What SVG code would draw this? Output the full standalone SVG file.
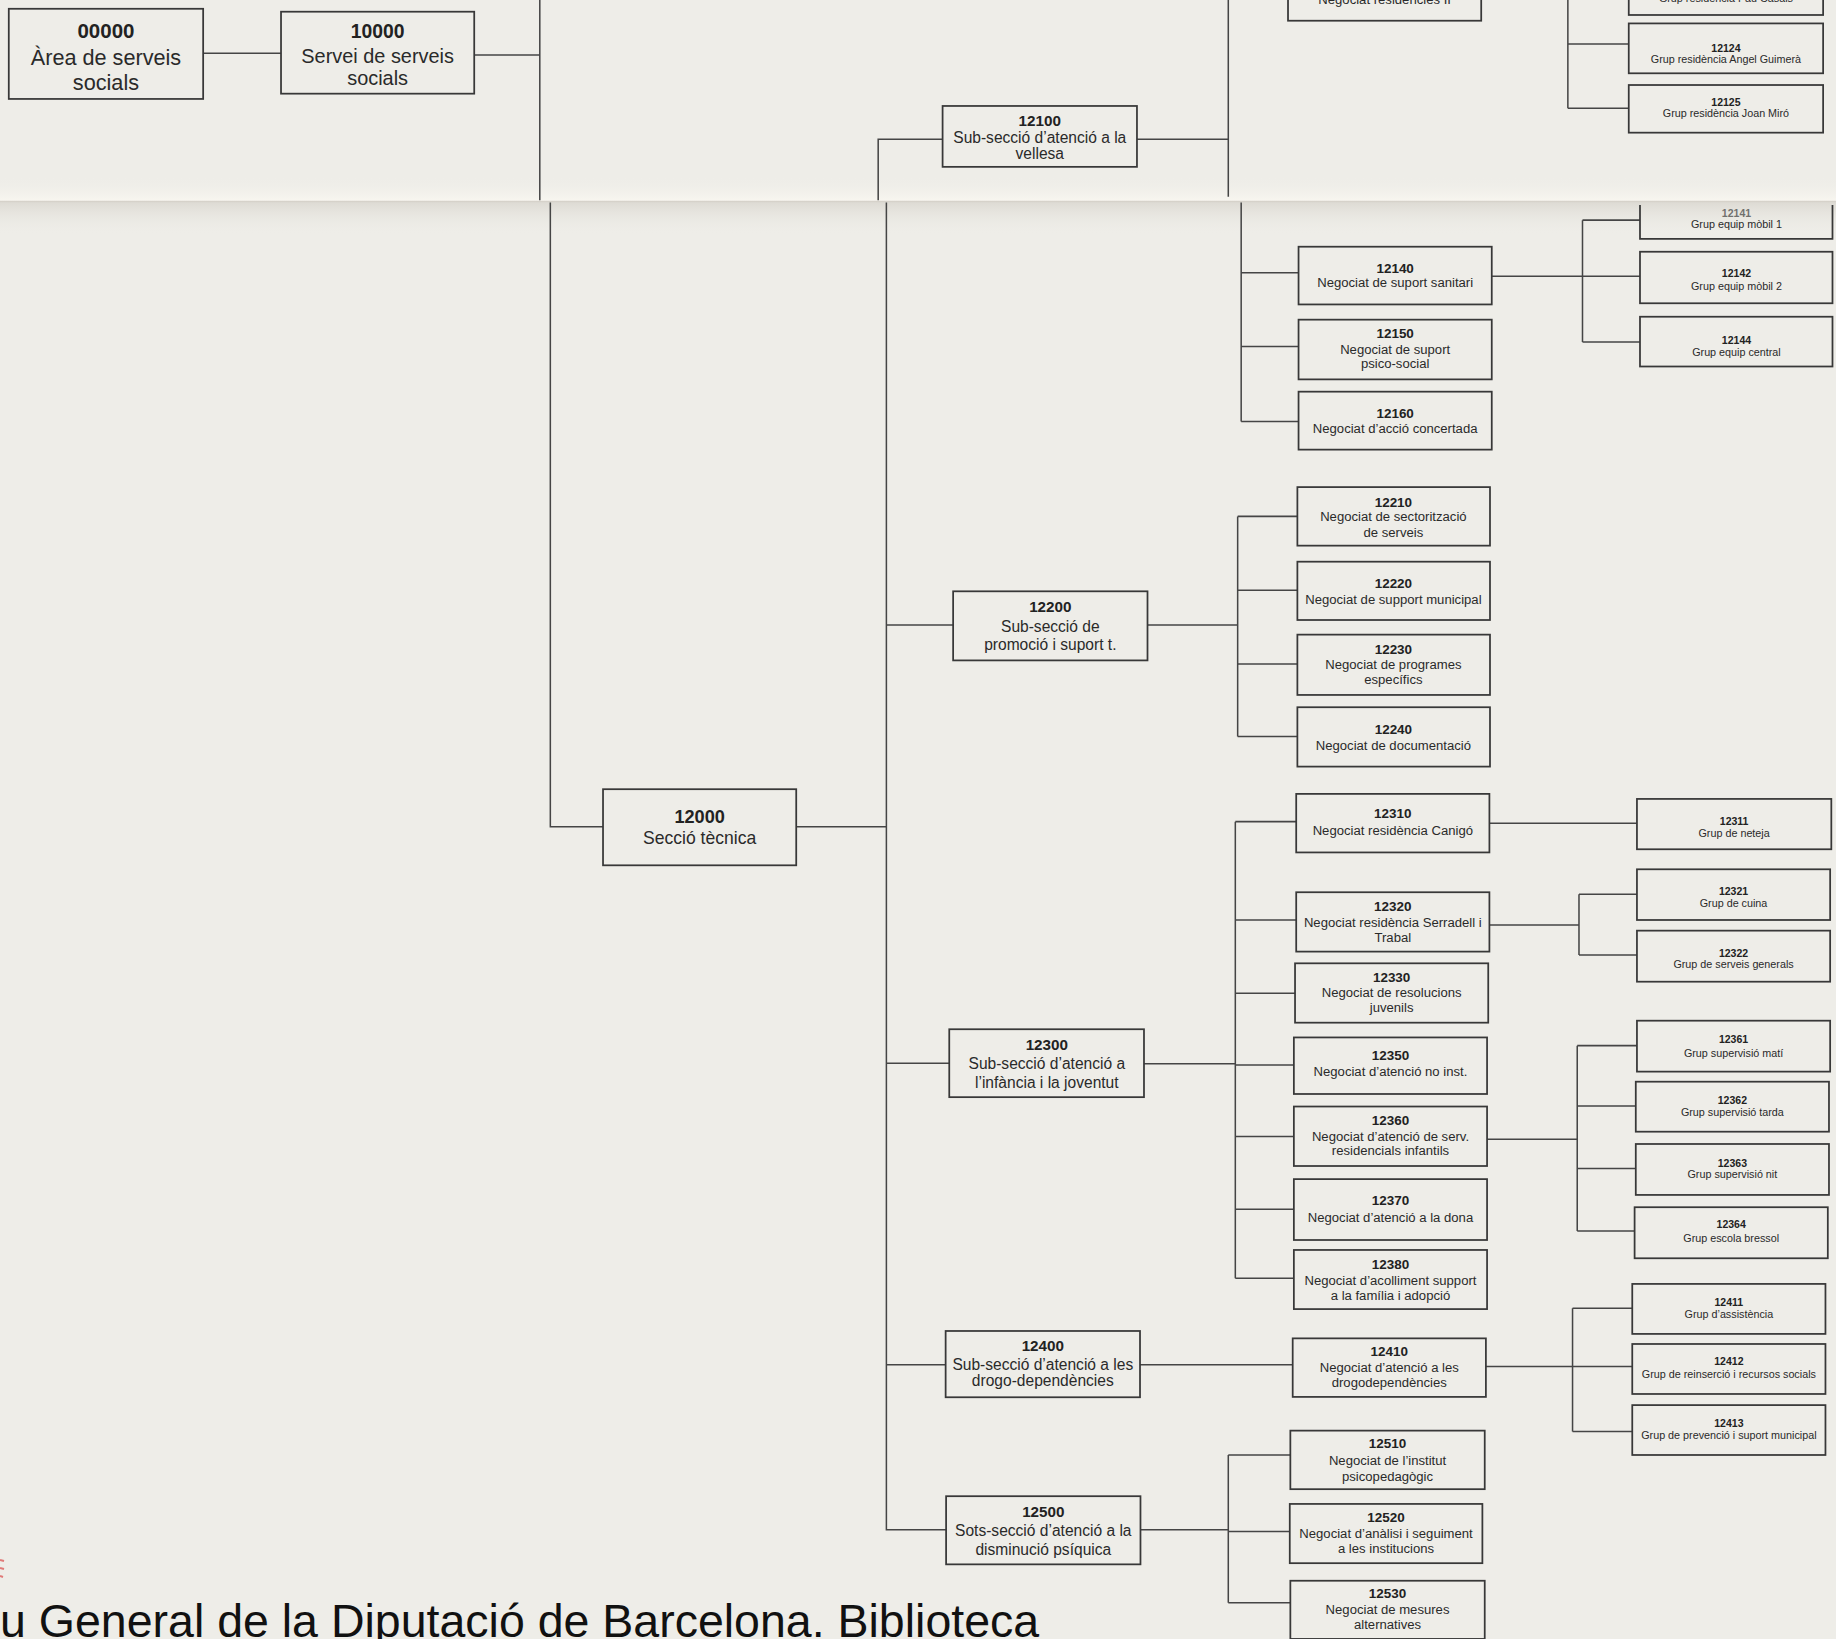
<svg xmlns="http://www.w3.org/2000/svg" width="1836" height="1639" viewBox="0 0 1836 1639">
<style>
.box{fill:none;stroke:#383838;stroke-width:1.5}
.ln{fill:none;stroke:#454545;stroke-width:1.3}
text{font-family:"Liberation Sans",Arial,sans-serif;text-anchor:middle;fill:#2a2a2a}
.b{font-weight:bold;fill:#222}
.f0{font-size:18.5px}.f0b{font-size:17.5px}
.f1{font-size:17px}.f1b{font-size:16.5px}
.f2{font-size:15px}.f2b{font-size:15.5px}
.fs{font-size:13.3px}.fsb{font-size:13px}
.fn{font-size:11.2px}.fnb{font-size:11.5px}
.fg{font-size:9.2px}.fgb{font-size:9px}
</style>
<defs>
<linearGradient id="shade" x1="0" y1="0" x2="0" y2="1">
<stop offset="0" stop-color="#dcd9d2"/>
<stop offset="1" stop-color="#eeede8" stop-opacity="0"/>
</linearGradient>
<linearGradient id="light" x1="0" y1="0" x2="0" y2="1">
<stop offset="0" stop-color="#eeede8" stop-opacity="0"/>
<stop offset="1" stop-color="#f8f6f0"/>
</linearGradient>
</defs>
<rect width="1836" height="1639" fill="#eeede8"/>
<rect x="0" y="176" width="1836" height="25" fill="url(#light)"/>
<rect x="0" y="201" width="1836" height="34" fill="url(#shade)"/>
<line x1="0" y1="201.5" x2="1836" y2="201.5" stroke="#d6d2ca" stroke-width="1.5"/>

<g transform="scale(1.17092)">
<g id="connectors" class="ln">
<path d="M173.5,45.5H240M405,47H461M461,0V171"/>
<path d="M470,173V706H515M680,706H757"/>
<path d="M750,171V119H805M757,173V1306.4H808M757,533.7H814M757,908H810.7M757,1165.5H807.6"/>
<path d="M971,119H1049M1049,0V168"/>
<path d="M1060,173V360M1060,233H1109M1060,296H1109M1060,360H1109"/>
<path d="M1274,236H1400.6M1351.5,188V292M1351.5,188H1400.6M1351.5,292H1400.6"/>
<path d="M1339,0V92.5M1339,37.6H1391M1339,92.5H1391"/>
<path d="M980,533.7H1057M1057,441V629M1057,441H1108M1057,504H1108M1057,567H1108M1057,629H1108"/>
<path d="M977,908.5H1055M1055,701.7V1091.7M1055,701.7H1107M1055,785.7H1107M1055,848.3H1106M1055,909.5H1105M1055,970.7H1105M1055,1032.8H1105M1055,1091.7H1105"/>
<path d="M1272,703H1398"/>
<path d="M1272,790H1348.5M1348.5,763.7V815.6M1348.5,763.7H1398M1348.5,815.6H1398"/>
<path d="M1270,973H1347M1347,893V1051.3M1347,893H1398M1347,944.5H1397M1347,998H1397M1347,1051.3H1396"/>
<path d="M973.6,1165.5H1104"/>
<path d="M1269,1167H1394M1343,1117.3V1222.6M1343,1117.3H1394M1343,1222.6H1394"/>
<path d="M974,1306.4H1049M1049,1242.6V1368.7M1049,1242.6H1102M1049,1308H1101.5M1049,1368.7H1102"/>
</g>

<g id="n00000"><rect class="box" x="7.5" y="7.5" width="166" height="77"/>
<text x="90.5" y="32.5" class="b f0b">00000</text><text x="90.5" y="55.5" class="f0">Àrea de serveis</text><text x="90.5" y="77" class="f0">socials</text></g>
<g id="n10000"><rect class="box" x="240" y="10" width="165" height="70"/>
<text x="322.5" y="32.7" class="b f1b">10000</text><text x="322.5" y="54" class="f1">Servei de serveis</text><text x="322.5" y="72.6" class="f1">socials</text></g>
<g id="n12000"><rect class="box" x="515" y="674" width="165" height="65"/>
<text x="597.5" y="703" class="b f2b">12000</text><text x="597.5" y="721" class="f2">Secció tècnica</text></g>

<g id="n12100"><rect class="box" x="805" y="90.5" width="166" height="52"/>
<text x="888" y="108" class="b fsb">12100</text><text x="888" y="122.3" class="fs">Sub-secció d’atenció a la</text><text x="888" y="136" class="fs">vellesa</text></g>
<g id="n-negociat-residencies-ii"><rect class="box" x="1100" y="-5" width="165" height="22.7"/>
<text x="1182.5" y="3.4" class="fn">Negociat residències II</text></g>
<g id="n-grup-pau-casals"><rect class="box" x="1391" y="-5" width="166" height="17.8"/>
<text x="1474" y="1.8" class="fg">Grup residència Pau Casals</text></g>
<g id="n12124"><rect class="box" x="1391" y="20" width="166" height="42.6"/>
<text x="1474" y="44" class="b fgb">12124</text><text x="1474" y="54" class="fg">Grup residència Angel Guimerà</text></g>
<g id="n12125"><rect class="box" x="1391" y="72.6" width="166" height="40.7"/>
<text x="1474" y="90.5" class="b fgb">12125</text><text x="1474" y="100" class="fg">Grup residència Joan Miró</text></g>

<g id="n12140"><rect class="box" x="1109" y="210.7" width="165" height="49.3"/>
<text x="1191.5" y="232.9" class="b fnb">12140</text><text x="1191.5" y="245.4" class="fn">Negociat de suport sanitari</text></g>
<g id="n12150"><rect class="box" x="1109" y="273" width="165" height="51"/>
<text x="1191.5" y="289" class="b fnb">12150</text><text x="1191.5" y="302" class="fn">Negociat de suport</text><text x="1191.5" y="314.6" class="fn">psico-social</text></g>
<g id="n12160"><rect class="box" x="1109" y="334.5" width="165" height="49.5"/>
<text x="1191.5" y="357.2" class="b fnb">12160</text><text x="1191.5" y="370" class="fn">Negociat d’acció concertada</text></g>
<g id="n12141"><path class="box" d="M1400.6,175V204H1565V175"/>
<text x="1483" y="185" class="b fgb" opacity="0.6">12141</text><text x="1483" y="195" class="fg">Grup equip mòbil 1</text></g>
<g id="n12142"><rect class="box" x="1400.6" y="215" width="164.4" height="44"/>
<text x="1483" y="236.8" class="b fgb">12142</text><text x="1483" y="247.7" class="fg">Grup equip mòbil 2</text></g>
<g id="n12144"><rect class="box" x="1400.6" y="270.5" width="164.4" height="42.5"/>
<text x="1483" y="293.8" class="b fgb">12144</text><text x="1483" y="304" class="fg">Grup equip central</text></g>

<g id="n12200"><rect class="box" x="814" y="505" width="166" height="59"/>
<text x="897" y="522.4" class="b fsb">12200</text><text x="897" y="539.5" class="fs">Sub-secció de</text><text x="897" y="555" class="fs">promoció i suport t.</text></g>
<g id="n12210"><rect class="box" x="1108" y="416" width="164.5" height="50"/>
<text x="1190" y="432.7" class="b fnb">12210</text><text x="1190" y="444.7" class="fn">Negociat de sectorització</text><text x="1190" y="458.3" class="fn">de serveis</text></g>
<g id="n12220"><rect class="box" x="1108" y="479.7" width="164.5" height="49.8"/>
<text x="1190" y="502.4" class="b fnb">12220</text><text x="1190" y="515.8" class="fn">Negociat de support municipal</text></g>
<g id="n12230"><rect class="box" x="1108" y="542" width="164.5" height="51.5"/>
<text x="1190" y="558.5" class="b fnb">12230</text><text x="1190" y="571.6" class="fn">Negociat de programes</text><text x="1190" y="584.1" class="fn">específics</text></g>
<g id="n12240"><rect class="box" x="1108" y="604" width="164.5" height="50.7"/>
<text x="1190" y="626.8" class="b fnb">12240</text><text x="1190" y="640.5" class="fn">Negociat de documentació</text></g>

<g id="n12300"><rect class="box" x="810.7" y="879" width="166.3" height="58"/>
<text x="894" y="896.4" class="b fsb">12300</text><text x="894" y="913.2" class="fs">Sub-secció d’atenció a</text><text x="894" y="928.8" class="fs">l’infància i la joventut</text></g>
<g id="n12310"><rect class="box" x="1107" y="678" width="165" height="50"/>
<text x="1189.5" y="698.8" class="b fnb">12310</text><text x="1189.5" y="713" class="fn">Negociat residència Canigó</text></g>
<g id="n12311"><rect class="box" x="1398" y="682.3" width="166" height="43"/>
<text x="1481" y="704.5" class="b fgb">12311</text><text x="1481" y="714.5" class="fg">Grup de neteja</text></g>
<g id="n12320"><rect class="box" x="1107" y="762" width="165" height="50.7"/>
<text x="1189.5" y="777.7" class="b fnb">12320</text><text x="1189.5" y="791.4" class="fn">Negociat residència Serradell i</text><text x="1189.5" y="804.2" class="fn">Trabal</text></g>
<g id="n12321"><rect class="box" x="1398" y="742.4" width="165" height="43.3"/>
<text x="1480.5" y="764.3" class="b fgb">12321</text><text x="1480.5" y="774.3" class="fg">Grup de cuina</text></g>
<g id="n12322"><rect class="box" x="1398" y="794.8" width="165" height="43.6"/>
<text x="1480.5" y="817" class="b fgb">12322</text><text x="1480.5" y="827" class="fg">Grup de serveis generals</text></g>
<g id="n12330"><rect class="box" x="1106" y="822.7" width="165" height="50.7"/>
<text x="1188.5" y="838.4" class="b fnb">12330</text><text x="1188.5" y="851.2" class="fn">Negociat de resolucions</text><text x="1188.5" y="864" class="fn">juvenils</text></g>
<g id="n12350"><rect class="box" x="1105" y="886" width="165" height="48.3"/>
<text x="1187.5" y="905.2" class="b fnb">12350</text><text x="1187.5" y="918.9" class="fn">Negociat d’atenció no inst.</text></g>
<g id="n12360"><rect class="box" x="1105" y="945" width="165" height="50.8"/>
<text x="1187.5" y="960.8" class="b fnb">12360</text><text x="1187.5" y="974.4" class="fn">Negociat d’atenció de serv.</text><text x="1187.5" y="986.6" class="fn">residencials infantils</text></g>
<g id="n12361"><rect class="box" x="1398" y="871.7" width="165" height="43.5"/>
<text x="1480.5" y="891" class="b fgb">12361</text><text x="1480.5" y="902.4" class="fg">Grup supervisió matí</text></g>
<g id="n12362"><rect class="box" x="1397" y="923.8" width="165" height="42.7"/>
<text x="1479.5" y="942.8" class="b fgb">12362</text><text x="1479.5" y="953" class="fg">Grup supervisió tarda</text></g>
<g id="n12363"><rect class="box" x="1397" y="977" width="165" height="43.5"/>
<text x="1479.5" y="996.3" class="b fgb">12363</text><text x="1479.5" y="1006.3" class="fg">Grup supervisió nit</text></g>
<g id="n12364"><rect class="box" x="1396" y="1031" width="165" height="43.6"/>
<text x="1478.5" y="1049" class="b fgb">12364</text><text x="1478.5" y="1060.4" class="fg">Grup escola bressol</text></g>
<g id="n12370"><rect class="box" x="1105" y="1007" width="165" height="52"/>
<text x="1187.5" y="1029" class="b fnb">12370</text><text x="1187.5" y="1043.3" class="fn">Negociat d’atenció a la dona</text></g>
<g id="n12380"><rect class="box" x="1105" y="1067.5" width="165" height="50.5"/>
<text x="1187.5" y="1084" class="b fnb">12380</text><text x="1187.5" y="1097.4" class="fn">Negociat d’acolliment support</text><text x="1187.5" y="1110" class="fn">a la família i adopció</text></g>

<g id="n12400"><rect class="box" x="807.6" y="1136.7" width="166" height="56.6"/>
<text x="890.6" y="1154" class="b fsb">12400</text><text x="890.6" y="1170" class="fs">Sub-secció d’atenció a les</text><text x="890.6" y="1183.9" class="fs">drogo-dependències</text></g>
<g id="n12410"><rect class="box" x="1104" y="1143" width="165" height="50"/>
<text x="1186.5" y="1158" class="b fnb">12410</text><text x="1186.5" y="1171.4" class="fn">Negociat d’atenció a les</text><text x="1186.5" y="1184.2" class="fn">drogodependències</text></g>
<g id="n12411"><rect class="box" x="1394" y="1096.5" width="165" height="42.7"/>
<text x="1476.5" y="1115.3" class="b fgb">12411</text><text x="1476.5" y="1125.8" class="fg">Grup d’assistència</text></g>
<g id="n12412"><rect class="box" x="1394" y="1147.8" width="165" height="42.7"/>
<text x="1476.5" y="1165.7" class="b fgb">12412</text><text x="1476.5" y="1177" class="fg">Grup de reinserció i recursos socials</text></g>
<g id="n12413"><rect class="box" x="1394" y="1200" width="165" height="42.6"/>
<text x="1476.5" y="1218.4" class="b fgb">12413</text><text x="1476.5" y="1229.2" class="fg">Grup de prevenció i suport municipal</text></g>

<g id="n12500"><rect class="box" x="808" y="1277.8" width="166" height="58.2"/>
<text x="891" y="1295.3" class="b fsb">12500</text><text x="891" y="1311.6" class="fs">Sots-secció d’atenció a la</text><text x="891" y="1328" class="fs">disminució psíquica</text></g>
<g id="n12510"><rect class="box" x="1102" y="1221.8" width="166" height="50"/>
<text x="1185" y="1236.9" class="b fnb">12510</text><text x="1185" y="1251" class="fn">Negociat de l’institut</text><text x="1185" y="1264.5" class="fn">psicopedagògic</text></g>
<g id="n12520"><rect class="box" x="1101.5" y="1284.4" width="164.5" height="50.6"/>
<text x="1183.7" y="1300" class="b fnb">12520</text><text x="1183.7" y="1313.7" class="fn">Negociat d’anàlisi i seguiment</text><text x="1183.7" y="1326" class="fn">a les institucions</text></g>
<g id="n12530"><rect class="box" x="1102" y="1350" width="166" height="49.7"/>
<text x="1185" y="1365" class="b fnb">12530</text><text x="1185" y="1378.4" class="fn">Negociat de mesures</text><text x="1185" y="1391.4" class="fn">alternatives</text></g>
</g>

<g id="marks" stroke="#e07a78" stroke-width="2">
<line x1="0" y1="1560" x2="4" y2="1561"/>
<line x1="0" y1="1568" x2="4" y2="1569"/>
<line x1="0" y1="1576" x2="3" y2="1577"/>
</g>
<text x="0" y="1637" style="text-anchor:start;font-size:46.5px;fill:#111">u General de la Diputació de Barcelona. Biblioteca</text>
</svg>
